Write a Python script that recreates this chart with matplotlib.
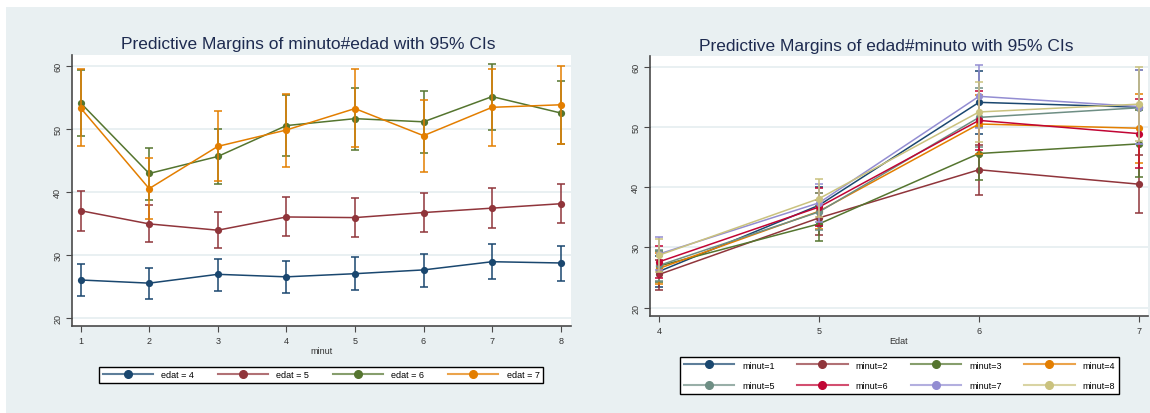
import matplotlib
matplotlib.use('Agg')
import matplotlib.pyplot as plt
from matplotlib.lines import Line2D
from matplotlib.patches import Rectangle

# predictive margins by edat (rows) over minut 1..8, with 95% CI
minut = [1, 2, 3, 4, 5, 6, 7, 8]
edat = [4, 5, 6, 7]

margin_e4 = [26.0, 25.5, 26.9, 26.5, 27.0, 27.6, 28.9, 28.7]
lo_e4 = [23.4, 23.0, 24.3, 23.9, 24.4, 24.9, 26.2, 25.9]
hi_e4 = [28.5, 27.9, 29.4, 29.0, 29.6, 30.2, 31.7, 31.4]

margin_e5 = [37.0, 34.9, 33.9, 36.0, 35.9, 36.7, 37.4, 38.1]
lo_e5 = [33.8, 32.0, 31.0, 33.0, 32.9, 33.6, 34.3, 35.0]
hi_e5 = [40.1, 37.9, 36.8, 39.1, 39.0, 39.8, 40.6, 41.3]

margin_e6 = [54.1, 42.9, 45.6, 50.5, 51.6, 51.1, 55.1, 52.5]
lo_e6 = [48.9, 38.7, 41.2, 45.6, 46.7, 46.2, 49.8, 47.5]
hi_e6 = [59.3, 47.0, 50.0, 55.3, 56.5, 56.0, 60.3, 57.5]

margin_e7 = [53.3, 40.5, 47.2, 49.8, 53.2, 48.9, 53.4, 53.8]
lo_e7 = [47.2, 35.7, 41.7, 44.0, 47.1, 43.2, 47.2, 47.6]
hi_e7 = [59.4, 45.3, 52.8, 55.5, 59.4, 54.6, 59.5, 59.9]

margins = [margin_e4, margin_e5, margin_e6, margin_e7]
lows = [lo_e4, lo_e5, lo_e6, lo_e7]
highs = [hi_e4, hi_e5, hi_e6, hi_e7]

# Stata s2color palette
colors = ['#1A476F', '#90353B', '#55752F', '#E37E00',
          '#6E8E84', '#C10534', '#938DD2', '#CAC27E']

plt.rcParams['font.family'] = ['Liberation Sans', 'DejaVu Sans']
BG = '#E9F0F2'
W, H = 1150, 414

fig = plt.figure(figsize=(W / 100, H / 100), dpi=100, facecolor='white')
fig.patches.append(Rectangle((6 / W, 0), 1 - 6 / W, 1 - 8 / H, transform=fig.transFigure,
                             facecolor=BG, edgecolor='none', zorder=-10))


def style_axes(ax, xlim, ylim, xticks):
    ax.set_xlim(*xlim)
    ax.set_ylim(*ylim)
    ax.set_xticks(xticks)
    ax.set_yticks([20, 30, 40, 50, 60])
    for y in [20, 30, 40, 50, 60]:
        ax.axhline(y, color=BG, lw=1.4, zorder=0)
    for s in ['top', 'right']:
        ax.spines[s].set_visible(False)
    for s in ['left', 'bottom']:
        ax.spines[s].set_color('#4A4A4A')
        ax.spines[s].set_linewidth(1.2)
    ax.tick_params(length=4, width=0.8, color='#4A4A4A', labelsize=6.5,
                   labelcolor='#333333', pad=3)
    for lab in ax.get_yticklabels():
        lab.set_rotation(90)
        lab.set_va('center')


def draw_series(ax, x, y, lo, hi, color):
    yerr = [[v - l for v, l in zip(y, lo)], [h - v for v, h in zip(y, hi)]]
    ax.errorbar(x, y, yerr=yerr, fmt='none', ecolor=color, elinewidth=1.1,
                capsize=2.6, capthick=1.1)
    ax.plot(x, y, color=color, lw=1.1, marker='o', markersize=5.2,
            markeredgewidth=0)


def legend_handle(color):
    return (Line2D([], [], color=color, lw=1.5, alpha=0.7),
            Line2D([], [], color=color, lw=0, marker='o', markersize=5.5))


# left panel: lines are edat, x axis minut
ax1 = fig.add_axes([72 / W, 1 - 327 / H, 499 / W, 271 / H])
style_axes(ax1, (0.875, 8.15), (18.7, 61.7), minut)
for i, e in enumerate(edat):
    draw_series(ax1, minut, margins[i], lows[i], highs[i], colors[i])
ax1.set_xlabel('minut', fontsize=6.5, color='#333333', labelpad=1)
fig.text(308 / W, 1 - 45 / H, 'Predictive Margins of minuto#edad with 95% CIs',
         ha='center', va='center', fontsize=12.5, color='#1E2B50')

h1 = [legend_handle(colors[i]) for i in range(4)]
l1 = ['edat = %d' % e for e in edat]
leg1 = fig.legend(h1, l1, ncol=4, mode='expand', loc='lower left',
                  bbox_to_anchor=(99 / W, 1 - 384 / H, 444 / W, 25 / H),
                  bbox_transform=fig.transFigure, fontsize=6.5, handlelength=5.6,
                  handletextpad=0.9, columnspacing=2.0, borderaxespad=0,
                  fancybox=False, edgecolor='black', framealpha=1)
leg1.get_frame().set_linewidth(1.0)

# right panel: lines are minut, x axis edat
ax2 = fig.add_axes([650 / W, 1 - 317 / H, 498 / W, 260 / H])
style_axes(ax2, (3.944, 7.056), (18.6, 61.8), edat)
for j, m in enumerate(minut):
    y = [margins[i][j] for i in range(4)]
    lo = [lows[i][j] for i in range(4)]
    hi = [highs[i][j] for i in range(4)]
    draw_series(ax2, edat, y, lo, hi, colors[j])
ax2.set_xlabel('Edat', fontsize=6.5, color='#333333', labelpad=1)
fig.text(886 / W, 1 - 46 / H, 'Predictive Margins of edad#minuto with 95% CIs',
         ha='center', va='center', fontsize=12.5, color='#1E2B50')

# legend fills column by column, so reorder to get minut=1..4 on the first row
order = [0, 4, 1, 5, 2, 6, 3, 7]
h2 = [legend_handle(colors[j]) for j in order]
l2 = ['minut=%d' % minut[j] for j in order]
leg2 = fig.legend(h2, l2, ncol=4, mode='expand', loc='lower left',
                  bbox_to_anchor=(680 / W, 1 - 395 / H, 439 / W, 45 / H),
                  bbox_transform=fig.transFigure, fontsize=6.5, handlelength=5.6,
                  handletextpad=0.9, columnspacing=2.0, borderaxespad=0,
                  labelspacing=1.3, fancybox=False, edgecolor='black', framealpha=1)
leg2.get_frame().set_linewidth(1.0)

plt.savefig('out.png', dpi=100, facecolor='white')
plt.close()
